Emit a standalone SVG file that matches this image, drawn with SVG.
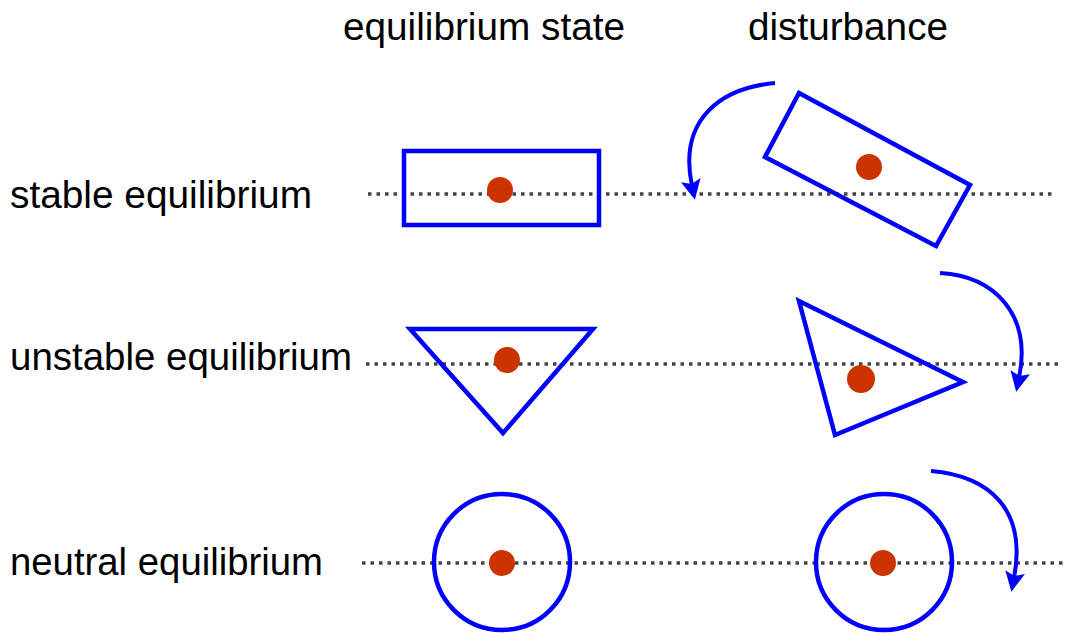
<svg xmlns="http://www.w3.org/2000/svg" width="1066" height="634" viewBox="0 0 1066 634">
<style>
.t{font-family:"Liberation Sans",Arial,sans-serif;font-size:38px;fill:#000}
.sh{fill:none;stroke:#0000ff;stroke-width:4.5}
.dot{fill:#cc3300}
.ln{stroke:#444;stroke-width:3.5;stroke-dasharray:3.5 5}
.arr{fill:none;stroke:#0000ff;stroke-width:4;marker-end:url(#ah)}
</style>
<defs>
<marker id="ah" viewBox="0 0 10 10" refX="3" refY="5" markerWidth="5" markerHeight="5" orient="auto-start-reverse" markerUnits="strokeWidth">
<path d="M0,0 L10,5 L0,10 L2,5 z" fill="#0000ff"/>
</marker>
</defs>
<rect width="1066" height="634" fill="#fff"/>
<g id="headers">
<text class="t" x="343" y="40" textLength="282" lengthAdjust="spacingAndGlyphs">equilibrium state</text>
<text class="t" x="748" y="40" textLength="200" lengthAdjust="spacingAndGlyphs">disturbance</text>
</g>
<g id="labels">
<text class="t" x="10" y="208" textLength="302" lengthAdjust="spacingAndGlyphs">stable equilibrium</text>
<text class="t" x="10" y="370" textLength="342" lengthAdjust="spacingAndGlyphs">unstable equilibrium</text>
<text class="t" x="10" y="575" textLength="313" lengthAdjust="spacingAndGlyphs">neutral equilibrium</text>
</g>
<g id="connectors">
<line class="ln" x1="368" y1="194" x2="1052" y2="194"/>
<line class="ln" x1="366" y1="364" x2="1060" y2="364"/>
<line class="ln" x1="362" y1="563" x2="1066" y2="563"/>
<path class="arr" d="M775,83 C720,88 678,120 692,186"/>
<path class="arr" d="M940,273 C995,276 1032,315 1019,378"/>
<path class="arr" d="M931,471 C990,476 1027,510 1014,578"/>
</g>
<g id="stable-state">
<rect class="sh" x="404" y="151" width="195" height="74"/>
<circle class="dot" cx="500" cy="190" r="13"/>
</g>
<g id="stable-disturbed">
<polygon class="sh" points="799,93 970,185 936,246 765,157"/>
<circle class="dot" cx="869" cy="167" r="13"/>
</g>
<g id="unstable-state">
<polygon class="sh" points="410,329 593,329 503,433"/>
<circle class="dot" cx="507" cy="360" r="13"/>
</g>
<g id="unstable-disturbed">
<polygon class="sh" points="799,301 963,382 835,435"/>
<circle class="dot" cx="861" cy="379" r="14"/>
</g>
<g id="neutral-state">
<circle class="sh" cx="502" cy="562" r="68"/>
<circle class="dot" cx="502" cy="563" r="13"/>
</g>
<g id="neutral-disturbed">
<circle class="sh" cx="884" cy="562" r="68"/>
<circle class="dot" cx="883" cy="563" r="13"/>
</g>
</svg>
